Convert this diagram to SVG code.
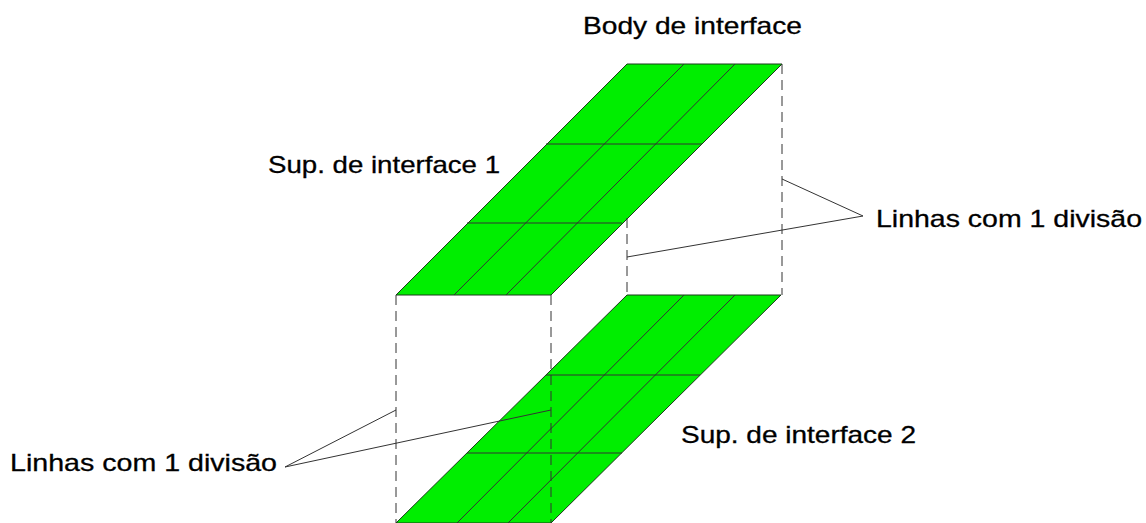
<svg xmlns="http://www.w3.org/2000/svg" width="1146" height="523" viewBox="0 0 1146 523">
<style>
text{font-family:"Liberation Sans",Arial,sans-serif;font-size:24px;fill:#000;stroke:#000;stroke-width:.3}
.f{fill:#00ee00;stroke:#1a3a1a;stroke-width:1}
.g{fill:none;stroke:#333;stroke-width:1}
.d{fill:none;stroke:#333;stroke-width:1;stroke-dasharray:10 6}
</style>
<rect width="1146" height="523" fill="#fff"/>
<g id="top-surface">
<polygon class="f" points="627,64 782,64 551,295 396,295"/>
<path class="g" d="M546,144H702M467,223H622M684,64L454,295M735,64L506,295"/>
</g>
<g id="bottom-surface">
<polygon class="f" points="627,295 781,295 551,523 396,523"/>
<path class="g" d="M546,375H700M467,453H622M684,295L457,523M735,295L508,523"/>
</g>
<g id="connectors">
<path class="d" d="M782,64V295M627,218V295M396,295V523M551,295V523"/>
<path class="g" d="M782,179L863,216L627,257M396,410L285,467L551,410"/>
</g>
<g id="labels">
<text x="583" y="34" textLength="219" lengthAdjust="spacingAndGlyphs">Body de interface</text>
<text x="268" y="173" textLength="232" lengthAdjust="spacingAndGlyphs">Sup. de interface 1</text>
<text x="876" y="227" textLength="266" lengthAdjust="spacingAndGlyphs">Linhas com 1 divisão</text>
<text x="681" y="443" textLength="235" lengthAdjust="spacingAndGlyphs">Sup. de interface 2</text>
<text x="10" y="471" textLength="267" lengthAdjust="spacingAndGlyphs">Linhas com 1 divisão</text>
</g>
</svg>
